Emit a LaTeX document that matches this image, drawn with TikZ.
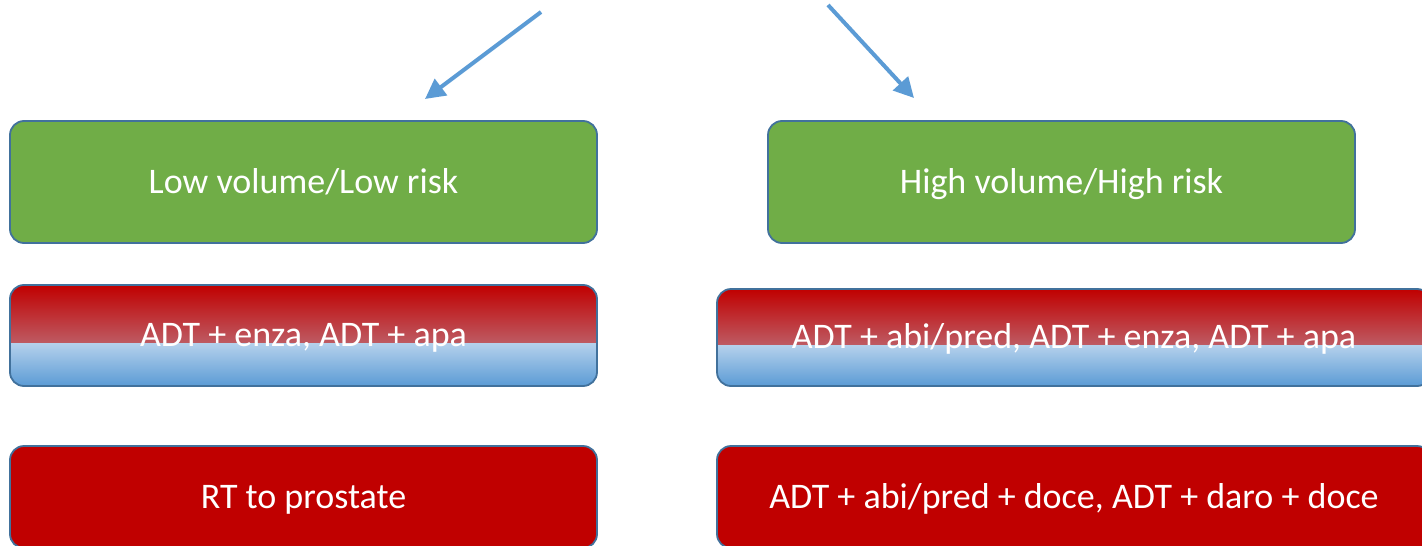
\documentclass[tikz,border=0pt]{standalone}
\usepackage{fontspec}
\setmainfont{Carlito}
\usetikzlibrary{arrows.meta}
\definecolor{boxgreen}{HTML}{70AD47}
\definecolor{boxred}{HTML}{C00000}
\definecolor{boxedge}{HTML}{41719C}
\definecolor{arrowblue}{HTML}{5B9BD5}
\definecolor{midpink}{HTML}{BC9EAC}
\definecolor{lightblue}{HTML}{B5D1EC}
\tikzset{
  riskbox/.style={draw=boxedge, line width=1.8pt, rounded corners=14pt,
    text=white, font=\fontsize{36}{42}\selectfont, inner sep=0pt,
    text height=28pt, text depth=6pt},
  groupbox/.style={riskbox, fill=boxgreen, minimum width=587pt, minimum height=122pt},
  mixbox/.style={riskbox,
    path picture={
      \shade[sharp corners, top color=boxred, bottom color=midpink]
        (path picture bounding box.north west) rectangle ([yshift=-7.5pt]path picture bounding box.east);
      \shade[sharp corners, top color=lightblue, bottom color=arrowblue]
        ([yshift=-7.5pt]path picture bounding box.west) rectangle (path picture bounding box.south east);
    }},
  redbox/.style={riskbox, fill=boxred},
  pointer/.style={draw=arrowblue, line width=4pt, -{Triangle[length=20pt,width=20pt]}}
}
\begin{document}
\begin{tikzpicture}[x=1pt,y=-1pt]
\useasboundingbox (0,0) rectangle (1422,546);
% groups
\node[groupbox] (low) at (303.5,182) {Low volume/Low risk};
\node[groupbox] (high) at (1061.5,182) {High volume/High risk};
% hormonal therapy
\node[mixbox, minimum width=587pt, minimum height=101pt] (lowdrug) at (303.5,335.5) {ADT + enza, ADT + apa};
\node[mixbox, minimum width=714pt, minimum height=97pt] (highdrug) at (1074,337.5) {ADT + abi/pred, ADT + enza, ADT + apa};
% further therapy
\node[redbox, minimum width=587pt, minimum height=102pt] (lowrt) at (303.5,497) {RT to prostate};
\node[redbox, minimum width=714pt, minimum height=102pt] (highchemo) at (1074,497) {ADT + abi/pred + doce, ADT + daro + doce};
% arrows
\coordinate (lowfrom) at (541,12);
\coordinate (lowto) at (425,99);
\coordinate (highfrom) at (828,5);
\coordinate (highto) at (914,98);
\draw[pointer] (lowfrom) -- (lowto);
\draw[pointer] (highfrom) -- (highto);
\end{tikzpicture}
\end{document}
